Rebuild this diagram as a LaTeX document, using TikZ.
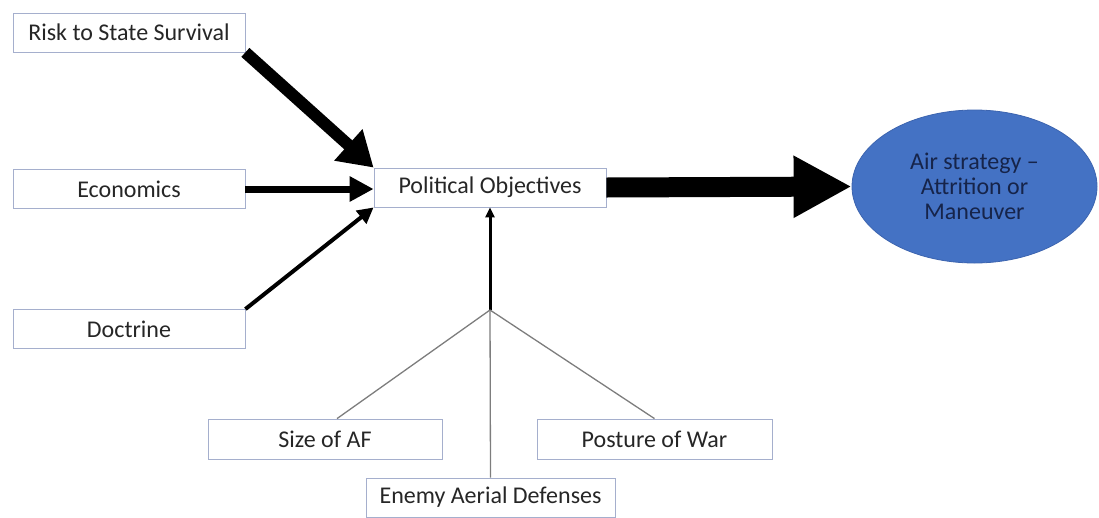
\documentclass[tikz,border=0pt]{standalone}
\usepackage{fontspec}
\setmainfont{Carlito}
\usepackage{xcolor}
\definecolor{boxline}{RGB}{165,175,205}
\definecolor{airblue}{RGB}{68,114,196}
\definecolor{airline}{RGB}{60,100,175}
\definecolor{airtext}{RGB}{22,36,74}
\definecolor{linkgray}{RGB}{125,125,125}
\usetikzlibrary{shapes.geometric, arrows.meta, positioning, calc}

\tikzset{
    factorbox/.style={draw=boxline, line width=0.8pt, fill=white, rectangle,
        minimum width=232pt, minimum height=39pt, inner sep=2pt,
        font=\fontsize{24}{26}\selectfont, text=black!85},
    outcome/.style={ellipse, draw=airline, line width=0.8pt, fill=airblue,
        minimum width=245pt, minimum height=153pt, inner sep=0pt,
        align=center, font=\fontsize{24}{25}\selectfont, text=airtext},
    feed/.style={draw=linkgray, line width=1.3pt}
}

\begin{document}
\begin{tikzpicture}[x=1pt, y=-1pt]
    \useasboundingbox (0,0) rectangle (1099,517);

    % drivers on the left
    \node[factorbox] (risk) at (129,32.5) {Risk to State Survival};
    \node[factorbox] (econ) at (129,189) {Economics};
    \node[factorbox] (doctrine) at (129,329) {Doctrine};

    % centre and outcome
    \node[factorbox] (polobj) at (490,187.5) {Political Objectives};
    \node[outcome] (airstrat) at (974.5,186.5) {Air strategy --\\Attrition or\\Maneuver};

    % factors below
    \node[factorbox, minimum width=234pt, minimum height=40pt] (sizeaf) at (325,439) {Size of AF};
    \node[factorbox, minimum width=235pt, minimum height=40pt] (posture) at (654.5,439) {Posture of War};
    \node[factorbox, minimum width=249pt] (enemyad) at (490.5,497.5) {Enemy Aerial Defenses};
    \coordinate (hub) at (490,310);

    % arrows into political objectives
    \draw[line width=12pt, -{Triangle[width=40pt,length=34pt]}] (risk.south east) -- (polobj.north west);
    \draw[line width=7pt, -{Triangle[width=24pt,length=24pt]}] (econ.east) -- (econ.east -| polobj.west);
    \draw[line width=4pt, -{Triangle[width=16pt,length=16pt]}] (doctrine.north east) -- (polobj.south west);
    \draw[line width=3pt, -{Triangle[width=9pt,length=10pt]}] (hub) -- (polobj.south);
    \draw[line width=20pt, -{Triangle[width=58pt,length=58pt]}] (polobj.east) -- (airstrat.west);

    % thin links to the hub
    \draw[feed] (hub) -- ([xshift=12pt]sizeaf.north);
    \draw[feed] (hub) -- (posture.north);
    \draw[feed] (hub) -- (enemyad.north);
\end{tikzpicture}
\end{document}
